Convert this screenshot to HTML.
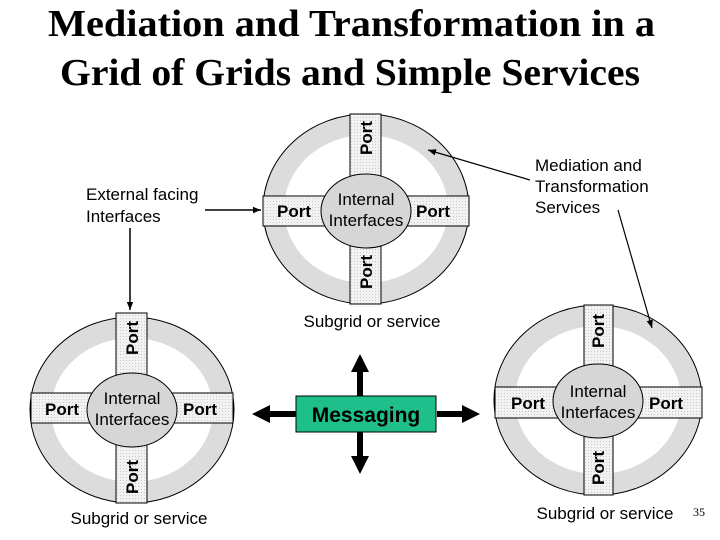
<!DOCTYPE html>
<html><head><meta charset="utf-8"><style>
html,body{margin:0;padding:0;background:#fff;}
svg{display:block;}
.p{font-family:"Liberation Sans",sans-serif;font-weight:bold;font-size:17px;fill:#000;}
.t{font-family:"Liberation Sans",sans-serif;font-size:17px;fill:#000;}
.h{font-family:"Liberation Serif",serif;font-weight:bold;font-size:38px;fill:#000;}
</style></head><body>
<svg width="720" height="540" viewBox="0 0 720 540" xmlns="http://www.w3.org/2000/svg">
<defs>
<pattern id="dots" width="3" height="3" patternUnits="userSpaceOnUse">
<rect width="3" height="3" fill="#f2f2f2"/><rect width="1" height="1" fill="#c8c8c8"/>
</pattern>
<marker id="ah" viewBox="0 0 10 10" refX="10" refY="5" markerWidth="8" markerHeight="8" orient="auto-start-reverse" markerUnits="userSpaceOnUse"><path d="M0,1 L10,5 L0,9 z" fill="#000"/></marker>
</defs>

<text class="h" x="48" y="36" textLength="607" lengthAdjust="spacingAndGlyphs">Mediation and Transformation in a</text>
<text class="h" x="60" y="85" textLength="580" lengthAdjust="spacingAndGlyphs">Grid of Grids and Simple Services</text>

<!-- Top ring -->
<g>
<ellipse cx="366" cy="209" rx="103" ry="95" fill="#dcdcdc" stroke="#000" stroke-width="1"/>
<ellipse cx="366" cy="209" rx="82" ry="74" fill="#fff"/>
<rect x="350" y="114" width="31" height="190" fill="url(#dots)" stroke="#000" stroke-width="1"/>
<rect x="263" y="196" width="206" height="30" fill="url(#dots)" stroke="#000" stroke-width="1"/>
<ellipse cx="366" cy="211" rx="45" ry="37" fill="#d6d6d6" stroke="#000" stroke-width="1"/>
<text class="p" x="294" y="217" text-anchor="middle">Port</text>
<text class="p" x="433" y="217" text-anchor="middle">Port</text>
<text class="p" transform="translate(372,138) rotate(-90)" text-anchor="middle">Port</text>
<text class="p" transform="translate(372,272) rotate(-90)" text-anchor="middle">Port</text>
<text class="t" x="366" y="205" text-anchor="middle">Internal</text>
<text class="t" x="366" y="226" text-anchor="middle">Interfaces</text>
</g>

<!-- Left ring -->
<g>
<ellipse cx="132" cy="410" rx="102" ry="93" fill="#dcdcdc" stroke="#000" stroke-width="1"/>
<ellipse cx="132" cy="410" rx="81" ry="72" fill="#fff"/>
<rect x="116" y="313" width="31" height="190" fill="url(#dots)" stroke="#000" stroke-width="1"/>
<rect x="31" y="393" width="202" height="30" fill="url(#dots)" stroke="#000" stroke-width="1"/>
<ellipse cx="132" cy="410" rx="45" ry="37" fill="#d6d6d6" stroke="#000" stroke-width="1"/>
<text class="p" x="62" y="415" text-anchor="middle">Port</text>
<text class="p" x="200" y="415" text-anchor="middle">Port</text>
<text class="p" transform="translate(138,338) rotate(-90)" text-anchor="middle">Port</text>
<text class="p" transform="translate(138,477) rotate(-90)" text-anchor="middle">Port</text>
<text class="t" x="132" y="404" text-anchor="middle">Internal</text>
<text class="t" x="132" y="425" text-anchor="middle">Interfaces</text>
</g>

<!-- Right ring -->
<g>
<ellipse cx="598" cy="400" rx="104" ry="95" fill="#dcdcdc" stroke="#000" stroke-width="1"/>
<ellipse cx="598" cy="400" rx="83" ry="74" fill="#fff"/>
<rect x="584" y="305" width="29" height="190" fill="url(#dots)" stroke="#000" stroke-width="1"/>
<rect x="495" y="387" width="207" height="31" fill="url(#dots)" stroke="#000" stroke-width="1"/>
<ellipse cx="598" cy="401" rx="45" ry="37" fill="#d6d6d6" stroke="#000" stroke-width="1"/>
<text class="p" x="528" y="409" text-anchor="middle">Port</text>
<text class="p" x="666" y="409" text-anchor="middle">Port</text>
<text class="p" transform="translate(604,331) rotate(-90)" text-anchor="middle">Port</text>
<text class="p" transform="translate(604,468) rotate(-90)" text-anchor="middle">Port</text>
<text class="t" x="598" y="397" text-anchor="middle">Internal</text>
<text class="t" x="598" y="418" text-anchor="middle">Interfaces</text>
</g>

<!-- labels -->
<text class="t" x="86" y="200">External facing</text>
<text class="t" x="86" y="222">Interfaces</text>
<text class="t" x="535" y="171">Mediation and</text>
<text class="t" x="535" y="192">Transformation</text>
<text class="t" x="535" y="213">Services</text>
<text class="t" x="372" y="327" text-anchor="middle">Subgrid or service</text>
<text class="t" x="139" y="524" text-anchor="middle">Subgrid or service</text>
<text class="t" x="605" y="519" text-anchor="middle">Subgrid or service</text>
<text x="693" y="516" font-family="Liberation Serif,serif" font-size="12">35</text>

<!-- thin arrows -->
<line x1="205" y1="210" x2="261" y2="210" stroke="#000" stroke-width="1.5" marker-end="url(#ah)"/>
<line x1="130" y1="228" x2="130" y2="310" stroke="#000" stroke-width="1.5" marker-end="url(#ah)"/>
<line x1="530" y1="180" x2="428" y2="150" stroke="#000" stroke-width="1.2" marker-end="url(#ah)"/>
<line x1="618" y1="210" x2="652" y2="328" stroke="#000" stroke-width="1.2" marker-end="url(#ah)"/>

<!-- Messaging -->
<g fill="#000">
<rect x="357" y="370" width="6" height="27"/>
<polygon points="360,354 351,372 369,372"/>
<rect x="357" y="432" width="6" height="26"/>
<polygon points="360,474 351,456 369,456"/>
<rect x="268" y="411" width="28" height="6"/>
<polygon points="252,414 270,405 270,423"/>
<rect x="437" y="411" width="27" height="6"/>
<polygon points="480,414 462,405 462,423"/>
</g>
<rect x="296" y="396" width="140" height="36" fill="#1fbf8c" stroke="#000" stroke-width="1"/>
<text x="366" y="422" text-anchor="middle" font-family="Liberation Sans,sans-serif" font-weight="bold" font-size="21" fill="#000">Messaging</text>
</svg>
</body></html>
